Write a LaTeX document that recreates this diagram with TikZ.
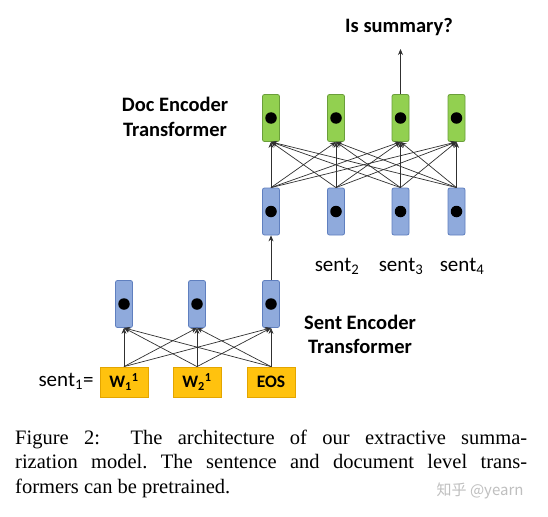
\documentclass[tikz,border=0pt]{standalone}
\usepackage{fontspec}
\setmainfont{Carlito}
\newfontfamily\capfont{Liberation Serif}
\newfontfamily\cjkfont{Noto Sans CJK SC}
\usetikzlibrary{arrows.meta}
\definecolor{bluefill}{HTML}{8FAADC}
\definecolor{blueedge}{HTML}{5F7FBF}
\definecolor{greenfill}{HTML}{92D050}
\definecolor{greenedge}{HTML}{6A9E3A}
\definecolor{yellowfill}{HTML}{FFC20E}
\definecolor{yellowedge}{HTML}{E3A500}
\definecolor{linecol}{HTML}{303030}
\tikzset{
  vecbox/.style={draw, line width=0.8pt, rounded corners=2pt, minimum width=17pt, minimum height=47pt, inner sep=0pt},
  bluebox/.style={vecbox, fill=bluefill, draw=blueedge},
  greenbox/.style={vecbox, fill=greenfill, draw=greenedge},
  wordbox/.style={draw=yellowedge, fill=yellowfill, line width=0.8pt, minimum width=48pt, minimum height=30pt, inner sep=0pt, font=\fontsize{17.5}{20}\selectfont\bfseries},
  dotmark/.style={circle, fill=black, minimum size=11.5pt, inner sep=0pt},
  conn/.style={draw=linecol, line width=0.7pt, -{Stealth[length=6pt,width=5pt]}},
  lbl/.style={font=\fontsize{20.5}{24.5}\selectfont\bfseries, align=center},
  sentlbl/.style={font=\fontsize{21}{24}\selectfont}
}
\begin{document}
\begin{tikzpicture}[x=1pt,y=-1pt]
\useasboundingbox[fill=white] (0,0) rectangle (548,516);

% word boxes
\node[wordbox] (w1) at (124,382) {W\textsubscript{1}\textsuperscript{1}};
\node[wordbox] (w2) at (197,382) {W\textsubscript{2}\textsuperscript{1}};
\node[wordbox] (eos) at (271,382) {EOS};

% sentence encoder outputs
\node[bluebox] (s1) at (124,304) {};
\node[bluebox] (s2) at (197,304) {};
\node[bluebox] (s3) at (271,304) {};

% document encoder inputs
\node[bluebox] (d1) at (271,211.5) {};
\node[bluebox] (d2) at (336,211.5) {};
\node[bluebox] (d3) at (400.5,211.5) {};
\node[bluebox] (d4) at (456.5,211.5) {};

% document encoder outputs
\node[greenbox] (g1) at (271,118) {};
\node[greenbox] (g2) at (336,118) {};
\node[greenbox] (g3) at (400.5,118) {};
\node[greenbox] (g4) at (456.5,118) {};

% dots
\foreach \n in {s1,s2,s3,d1,d2,d3,d4,g1,g2,g3,g4}
  \node[dotmark] (dot\n) at (\n.center) {};

% connections: words -> sentence encoder
\foreach \a in {w1,w2,eos}
  \foreach \b in {s1,s2,s3}
    \draw[conn] (\a.north) -- (\b.south);

% sentence vector -> doc encoder
\draw[conn] (s3.north) -- (d1.south);

% doc encoder connections
\foreach \a in {d1,d2,d3,d4}
  \foreach \b in {g1,g2,g3,g4}
    \draw[conn] (\a.north) -- (\b.south);

% output
\coordinate (out) at (400.5,49);
\draw[conn] (g3.north) -- (out);
\node[lbl] (issum) at (399,27) {Is summary?};

% labels
\node[lbl] (doclbl) at (175,117) {Doc Encoder\\Transformer};
\node[lbl] (sentlbl) at (360,334.5) {Sent Encoder\\Transformer};
\node[sentlbl, anchor=east] (sent1) at (97,381) {sent\textsubscript{1}=};
\node[sentlbl] (sent2) at (337,266) {sent\textsubscript{2}};
\node[sentlbl] (sent3) at (401,266) {sent\textsubscript{3}};
\node[sentlbl] (sent4) at (462,266) {sent\textsubscript{4}};

% caption
\node[anchor=north west, text width=512pt, align=justify, inner sep=0pt,
      font=\capfont\fontsize{20.5}{24.5}\selectfont\frenchspacing] (caption) at (15,429.5)
  {Figure 2:\ \ The architecture of our extractive summa-\linebreak rization model. The sentence and document level trans-\linebreak formers can be pretrained.};

% watermark
\node[anchor=east, text=black!25, font=\cjkfont\fontsize{15}{18}\selectfont] (wm) at (527,491) {知乎 @yearn};
\end{tikzpicture}
\end{document}
